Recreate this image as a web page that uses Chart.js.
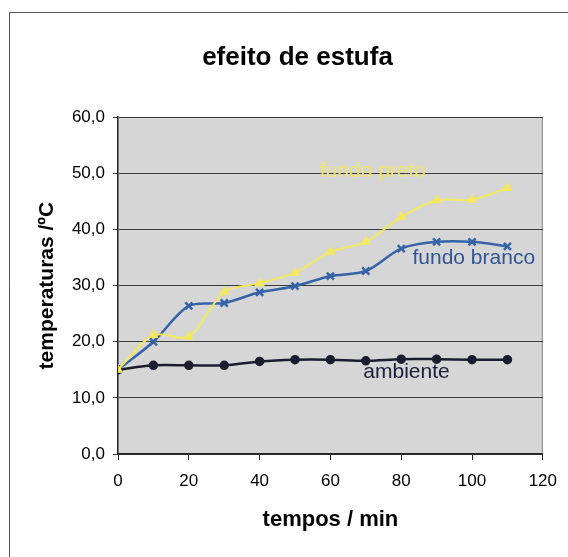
<!DOCTYPE html>
<html>
<head>
<meta charset="utf-8">
<script src="https://cdn.jsdelivr.net/npm/chart.js@4"></script>
<style>
  html, body { margin: 0; padding: 0; background: #fff; }
</style>
</head>
<body>
<canvas id="grafico" width="568" height="557"></canvas>
<script>
// dados
const tempos = [0, 10, 20, 30, 40, 50, 60, 70, 80, 90, 100, 110];
const ambiente = [15.0, 15.8, 15.8, 15.8, 16.5, 16.8, 16.8, 16.6, 16.9, 16.9, 16.8, 16.8];
const fundoBranco = [15.0, 20.0, 26.4, 26.9, 28.8, 29.9, 31.7, 32.6, 36.6, 37.8, 37.8, 37.0];
const fundoPreto = [15.0, 21.2, 20.9, 28.9, 30.4, 32.3, 36.0, 37.8, 42.2, 45.2, 45.3, 47.4];

const fonte = "'Liberation Sans', Arial, sans-serif";

function pontos(valores) {
  return tempos.map((t, i) => ({ x: t, y: valores[i] }));
}

// fundo cinzento da área do gráfico e moldura
const fundo = {
  id: "fundo",
  beforeDraw(chart) {
    const ctx = chart.ctx;
    const a = chart.chartArea;
    ctx.save();
    ctx.fillStyle = "#fff";
    ctx.fillRect(0, 0, chart.width, chart.height);
    ctx.strokeStyle = "#555";
    ctx.lineWidth = 1;
    ctx.beginPath();
    ctx.moveTo(9.5, chart.height);
    ctx.lineTo(9.5, 12.5);
    ctx.lineTo(chart.width, 12.5);
    ctx.stroke();
    ctx.fillStyle = "#d6d6d6";
    ctx.fillRect(a.left, a.top, a.right - a.left, a.bottom - a.top);
    ctx.strokeStyle = "#888";
    ctx.beginPath();
    ctx.moveTo(a.right - 0.5, a.top);
    ctx.lineTo(a.right - 0.5, a.bottom);
    ctx.stroke();
    ctx.restore();
  }
};

// nomes das séries escritos dentro do gráfico
const rotulos = {
  id: "rotulos",
  afterDatasetsDraw(chart) {
    const ctx = chart.ctx;
    const x = chart.scales.x;
    const y = chart.scales.y;
    const lista = [
      { texto: "fundo preto", t: 72, v: 50.4, cor: "#f0e468" },
      { texto: "fundo branco", t: 100.5, v: 34.9, cor: "#2f5597" },
      { texto: "ambiente", t: 81.5, v: 14.6, cor: "#1d1d3a" }
    ];
    ctx.save();
    ctx.font = "21px " + fonte;
    ctx.textAlign = "center";
    ctx.textBaseline = "middle";
    lista.forEach(r => {
      ctx.fillStyle = r.cor;
      ctx.fillText(r.texto, x.getPixelForValue(r.t), y.getPixelForValue(r.v));
    });
    ctx.restore();
  }
};

new Chart(document.getElementById("grafico"), {
  type: "line",
  data: {
    datasets: [
      {
        label: "fundo preto",
        data: pontos(fundoPreto),
        borderColor: "#f3e85c",
        backgroundColor: "#f3e85c",
        borderWidth: 2,
        pointStyle: "triangle",
        pointRadius: 4,
        tension: 0.3
      },
      {
        label: "fundo branco",
        data: pontos(fundoBranco),
        borderColor: "#3663a8",
        backgroundColor: "#3663a8",
        borderWidth: 2.5,
        pointStyle: "crossRot",
        pointRadius: 5,
        pointBorderWidth: 2.5,
        tension: 0.3
      },
      {
        label: "ambiente",
        data: pontos(ambiente),
        borderColor: "#1c1c30",
        backgroundColor: "#1c1c30",
        borderWidth: 2.5,
        pointStyle: "circle",
        pointRadius: 3.5,
        tension: 0.3
      }
    ]
  },
  options: {
    responsive: false,
    animation: false,
    devicePixelRatio: 1,
    layout: {
      padding: { left: 50, right: 23, top: 0, bottom: 0 }
    },
    plugins: {
      legend: { display: false },
      tooltip: { enabled: false },
      title: {
        display: true,
        text: "efeito de estufa",
        color: "#000",
        font: { family: fonte, size: 26, weight: "bold" },
        padding: { top: 42, bottom: 44 }
      }
    },
    scales: {
      x: {
        type: "linear",
        min: 0,
        max: 120,
        ticks: {
          stepSize: 20,
          color: "#000",
          padding: 11,
          font: { family: fonte, size: 17 }
        },
        grid: {
          drawOnChartArea: false,
          drawTicks: true,
          tickLength: 6,
          color: "#222"
        },
        border: { color: "#222", width: 1.5 },
        title: {
          display: true,
          text: "tempos / min",
          color: "#000",
          font: { family: fonte, size: 22, weight: "bold" },
          padding: { top: 0, bottom: 24 }
        },
        afterFit(scale) { scale.height = 103; }
      },
      y: {
        min: 0,
        max: 60,
        ticks: {
          stepSize: 10,
          color: "#000",
          padding: 8,
          font: { family: fonte, size: 17 },
          callback: v => v.toFixed(1).replace(".", ",")
        },
        grid: {
          color: "#3a3a3a",
          lineWidth: 1,
          tickLength: 5
        },
        border: { color: "#222", width: 1.5 },
        title: {
          display: true,
          text: "temperaturas /ºC",
          color: "#000",
          font: { family: fonte, size: 21, weight: "bold" },
          padding: { top: -15, bottom: 0 }
        },
        afterFit(scale) { scale.width = 68; }
      }
    }
  },
  plugins: [fundo, rotulos]
});
</script>
</body>
</html>
